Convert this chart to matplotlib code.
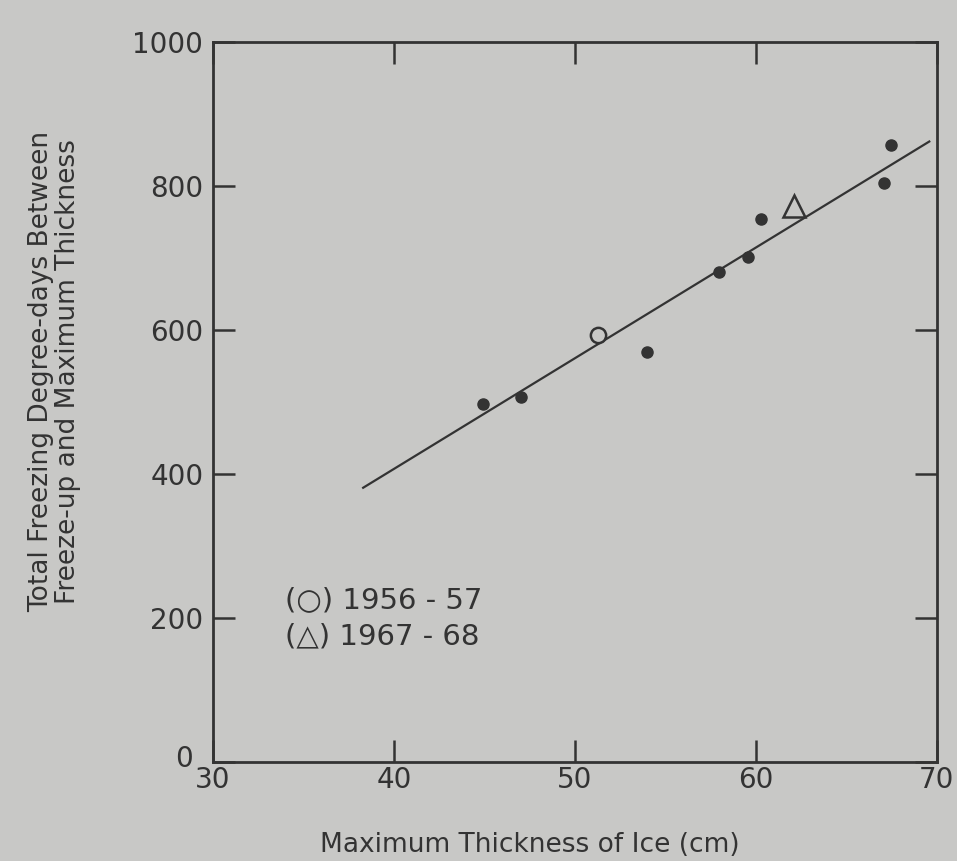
import numpy as np
import matplotlib
matplotlib.use('Agg')
from matplotlib import rcParams
import matplotlib.transforms as mtransforms
rcParams['font.family'] = 'DejaVu Sans'
rcParams['font.size'] = 18
import matplotlib.pyplot as plt

# filled dots
thick = [44.9, 47.0, 54.0, 58.0, 59.6, 60.3, 67.1, 67.5]
fdd = [497, 507, 569, 681, 701, 755, 804, 857]
# open circle, 1956-57
thick_5657 = [51.3]
fdd_5657 = [593]
# triangle, 1967-68
thick_6768 = [62.1]
fdd_6768 = [773]
# fitted line end points
line_x = [38.3, 69.6]
line_y = [381, 862]

bg = '#c8c8c6'
ink = '#333333'

fig = plt.figure(figsize=(9.57, 8.61), dpi=100, facecolor=bg)
ax = fig.add_axes([0.2226, 0.115, 0.756, 0.836], facecolor=bg)

ax.plot(line_x, line_y, '-', color=ink, lw=1.6)
ax.plot(thick, fdd, 'o', color=ink, ms=8)
ax.plot(thick_5657, fdd_5657, 'o', mfc=bg, mec=ink, mew=1.8, ms=11)
ax.plot(thick_6768, fdd_6768, '^', mfc='none', mec=ink, mew=1.8, ms=16)

ax.set_xlim(30, 70)
ax.set_ylim(0, 1000)
ax.set_xticks([30, 40, 50, 60, 70])
ax.set_yticks([0, 200, 400, 600, 800, 1000])

for s in ax.spines.values():
    s.set_linewidth(2)
    s.set_color(ink)

ax.tick_params(direction='in', length=16, width=1.8, color=ink,
               labelcolor=ink, labelsize=20, top=True, right=True)
ax.tick_params(axis='y', pad=7)
ax.tick_params(axis='x', pad=3)

# nudge the "0" so it sits up-left of the "30", like the original
fig.canvas.draw()
lab0 = ax.get_yticklabels()[0]
lab0.set_transform(lab0.get_transform() +
                   mtransforms.ScaledTranslation(-10/100, 6/100, fig.dpi_scale_trans))

ax.text(34.0, 225, '(○) 1956 - 57', fontsize=21, color=ink, va='center')
ax.text(34.0, 174, '(△) 1967 - 68', fontsize=21, color=ink, va='center')

ax.set_xlabel('Maximum Thickness of Ice (cm)', fontsize=19, color=ink, va='center')
ax.xaxis.set_label_coords(0.438, -0.115)
ax.set_ylabel('Total Freezing Degree-days Between\nFreeze-up and Maximum Thickness',
              fontsize=19, color=ink, va='center', linespacing=1.05)
ax.yaxis.set_label_coords(-0.219, 0.542)

plt.savefig('out.png', dpi=100, facecolor=bg)
